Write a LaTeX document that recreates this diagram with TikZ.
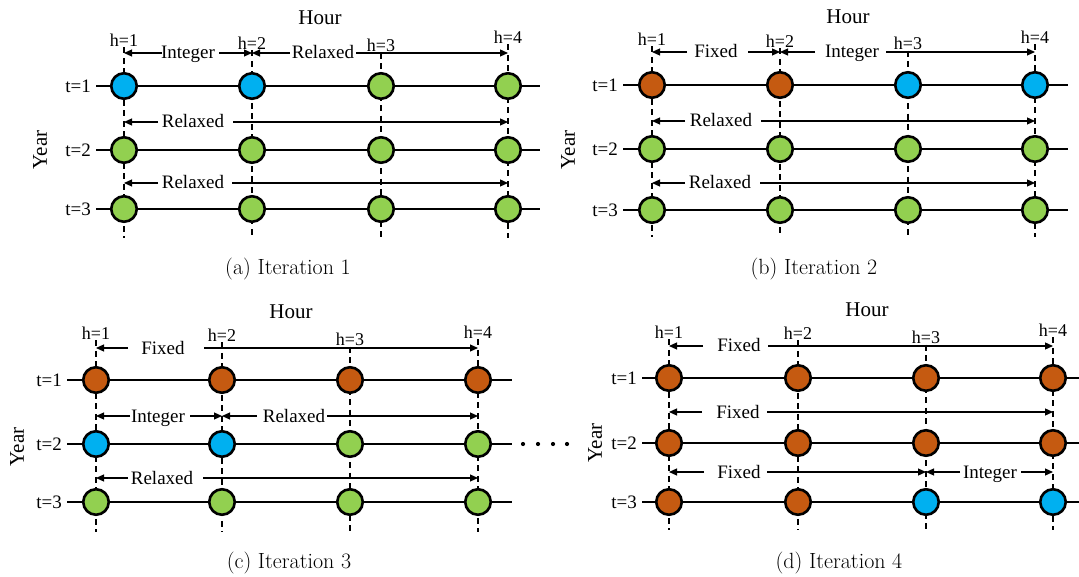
\documentclass[tikz,border=0pt]{standalone}
\usepackage{fontspec}
\usetikzlibrary{arrows.meta}
\newfontfamily\tnr{Liberation Serif}
\definecolor{intblue}{HTML}{00B0F0}
\definecolor{relgreen}{HTML}{92D050}
\definecolor{fixorange}{HTML}{C55A11}
\tikzset{
  dot/.style={circle, draw=black, line width=2.6pt, minimum size=25.5pt, inner sep=0pt},
  hlab/.style={font={\tnr\fontsize{18}{21}\selectfont}, inner sep=1pt},
  tlab/.style={font={\tnr\fontsize{19}{22}\selectfont}, inner sep=0pt, anchor=east},
  axlab/.style={font={\tnr\fontsize{21}{24}\selectfont}, inner sep=0pt},
  atext/.style={font={\tnr\fontsize{19}{22}\selectfont}, inner sep=0pt, anchor=base, yshift=-6pt},
  caption/.style={font={\fontsize{22}{26}\selectfont}, inner sep=0pt, anchor=base},
  vdash/.style={line width=1.2pt, dash pattern=on 6pt off 4.5pt},
  hline/.style={line width=1.2pt},
  arr/.style={line width=1.2pt, -{Triangle[length=8pt,width=7pt]}},
}
% one hour column: label, and the dashed guide running down from it
\newcommand\hourcol[5]{% panel, column, x, label y, bottom y
  \node[hlab] (#1-h#2) at (#3,#4) {h=#2};
  \coordinate (#1-c#2) at (#3,#5);
  \draw[vdash] (#1-c#2 |- #1-h#2.south) -- (#1-c#2);}
% one year row: label and the horizontal time line
\newcommand\yearrow[5]{% panel, row, y, line start x, line end x
  \coordinate (#1-l#2) at (#4,#3);
  \coordinate (#1-e#2) at (#5,#3);
  \node[tlab] (#1-t#2) at ([xshift=-5pt]#1-l#2) {t=#2};
  \draw[hline] (#1-l#2) -- (#1-e#2);}
% the four variable states of one row
\newcommand\slots[6]{% panel, row, four fill colours
  \node[dot, fill=#3] (#1-n#2-1) at (#1-c1 |- #1-l#2) {};
  \node[dot, fill=#4] (#1-n#2-2) at (#1-c2 |- #1-l#2) {};
  \node[dot, fill=#5] (#1-n#2-3) at (#1-c3 |- #1-l#2) {};
  \node[dot, fill=#6] (#1-n#2-4) at (#1-c4 |- #1-l#2) {};}
% a labelled span between two hour columns
\newcommand\spanarrow[9]{% panel, id, y, text x, text, left start x, right start x, left column, right column
  \node[atext] (#1-x#2) at (#4,#3) {#5};
  \coordinate (#1-ls#2) at (#6,#3);
  \coordinate (#1-rs#2) at (#7,#3);
  \draw[arr] (#1-ls#2) -- (#1-ls#2 -| #1-c#8);
  \draw[arr] (#1-rs#2) -- (#1-rs#2 -| #1-c#9);}

\begin{document}
\begin{tikzpicture}[x=1pt,y=-1pt]
\useasboundingbox (0,0) rectangle (1079,577);

% ---------------- (a) Iteration 1 ----------------
\node[axlab] (a-hour) at (320,18) {Hour};
\node[axlab, rotate=90] (a-year) at (40,150) {Year};
\hourcol{a}{1}{124}{40}{238}
\hourcol{a}{2}{252}{43}{238}
\hourcol{a}{3}{381}{45}{238}
\hourcol{a}{4}{508}{37}{238}
\yearrow{a}{1}{86}{96}{540}
\yearrow{a}{2}{150}{96}{540}
\yearrow{a}{3}{209}{96}{540}
\slots{a}{1}{intblue}{intblue}{relgreen}{relgreen}
\slots{a}{2}{relgreen}{relgreen}{relgreen}{relgreen}
\slots{a}{3}{relgreen}{relgreen}{relgreen}{relgreen}
\spanarrow{a}{1}{53}{188}{Integer}{162}{219}{1}{2}
\spanarrow{a}{2}{53}{323}{Relaxed}{290}{356}{2}{4}
\spanarrow{a}{3}{122}{193}{Relaxed}{158}{233}{1}{4}
\spanarrow{a}{4}{183}{193}{Relaxed}{158}{232}{1}{4}
\node[caption] (a-cap) at (288,275) {(a) Iteration 1};

% ---------------- (b) Iteration 2 ----------------
\node[axlab] (b-hour) at (848,17) {Hour};
\node[axlab, rotate=90] (b-year) at (568,150) {Year};
\hourcol{b}{1}{652}{39}{237}
\hourcol{b}{2}{780}{41}{237}
\hourcol{b}{3}{908}{43}{237}
\hourcol{b}{4}{1035}{37}{237}
\yearrow{b}{1}{85}{623}{1068}
\yearrow{b}{2}{149}{623}{1068}
\yearrow{b}{3}{210}{623}{1068}
\draw[hline, line width=1.8pt] (b-l2) -- (b-e2);
\slots{b}{1}{fixorange}{fixorange}{intblue}{intblue}
\slots{b}{2}{relgreen}{relgreen}{relgreen}{relgreen}
\slots{b}{3}{relgreen}{relgreen}{relgreen}{relgreen}
\spanarrow{b}{1}{52}{716}{Fixed}{687}{748}{1}{2}
\spanarrow{b}{2}{52}{852}{Integer}{815}{886}{2}{4}
\spanarrow{b}{3}{121}{721}{Relaxed}{685}{761}{1}{4}
\spanarrow{b}{4}{183}{720}{Relaxed}{685}{760}{1}{4}
\node[caption] (b-cap) at (814,275) {(b) Iteration 2};

% ---------------- (c) Iteration 3 ----------------
\node[axlab] (c-hour) at (291,312) {Hour};
\node[axlab, rotate=90] (c-year) at (17,447) {Year};
\hourcol{c}{1}{96}{333}{532}
\hourcol{c}{2}{222}{335}{532}
\hourcol{c}{3}{350}{339}{532}
\hourcol{c}{4}{478}{332}{532}
\yearrow{c}{1}{380}{67}{512}
\yearrow{c}{2}{444}{67}{512}
\yearrow{c}{3}{502}{67}{512}
\slots{c}{1}{fixorange}{fixorange}{fixorange}{fixorange}
\slots{c}{2}{intblue}{intblue}{relgreen}{relgreen}
\slots{c}{3}{relgreen}{relgreen}{relgreen}{relgreen}
\spanarrow{c}{1}{348}{163}{Fixed}{128}{204}{1}{4}
\spanarrow{c}{2}{416}{158}{Integer}{130}{190}{1}{2}
\spanarrow{c}{3}{416}{294}{Relaxed}{257}{327}{2}{4}
\spanarrow{c}{4}{478}{162}{Relaxed}{128}{203}{1}{4}
\node[caption] (c-cap) at (289,568) {(c) Iteration 3};

% ellipsis between the lower panels
\foreach \dx in {523,538,553,567}
  \fill (\dx,444) circle (2.1pt);

% ---------------- (d) Iteration 4 ----------------
\node[axlab] (d-hour) at (867,310) {Hour};
\node[axlab, rotate=90] (d-year) at (595,443) {Year};
\hourcol{d}{1}{669}{332}{530}
\hourcol{d}{2}{798}{333}{530}
\hourcol{d}{3}{926}{337}{530}
\hourcol{d}{4}{1053}{330}{530}
\yearrow{d}{1}{378}{642}{1079}
\yearrow{d}{2}{443}{642}{1079}
\yearrow{d}{3}{502}{642}{1079}
\slots{d}{1}{fixorange}{fixorange}{fixorange}{fixorange}
\slots{d}{2}{fixorange}{fixorange}{fixorange}{fixorange}
\slots{d}{3}{fixorange}{fixorange}{intblue}{intblue}
\spanarrow{d}{1}{346}{739}{Fixed}{703}{768}{1}{4}
\spanarrow{d}{2}{412}{738}{Fixed}{702}{767}{1}{4}
\spanarrow{d}{3}{472}{739}{Fixed}{704}{767}{1}{3}
\spanarrow{d}{4}{472}{990}{Integer}{960}{1021}{3}{4}
\node[caption] (d-cap) at (839,568) {(d) Iteration 4};
\end{tikzpicture}
\end{document}
